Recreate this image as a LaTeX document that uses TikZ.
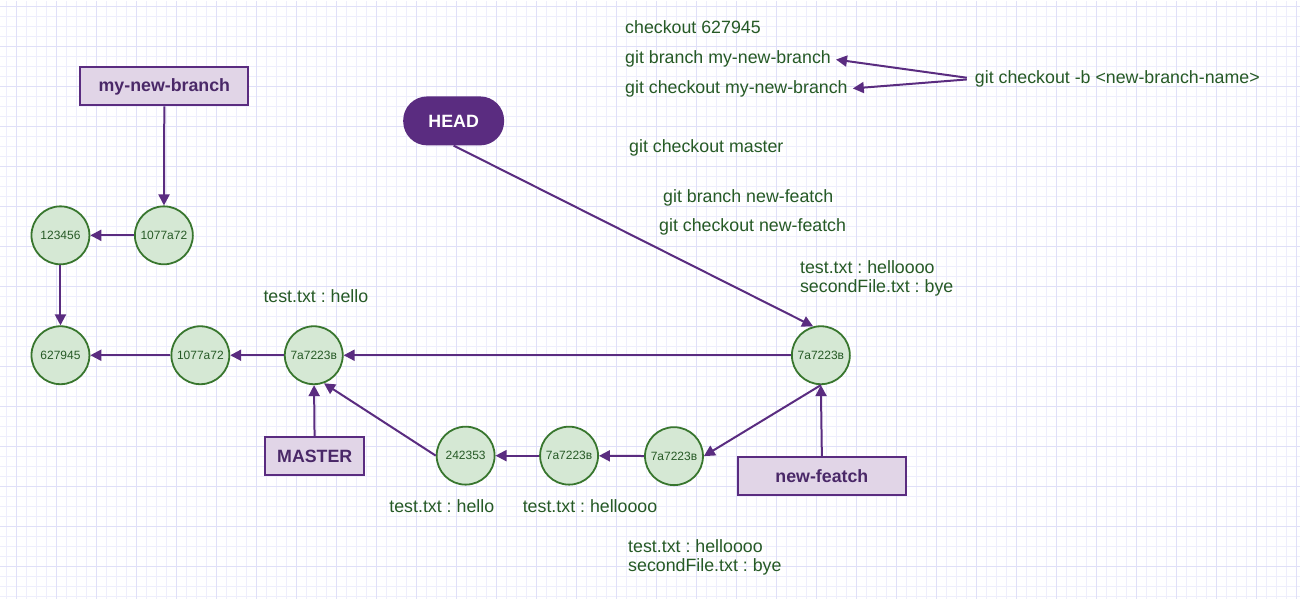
\documentclass[tikz,border=0pt]{standalone}
\usepackage{fontspec}
\setmainfont{Liberation Sans}
\usetikzlibrary{arrows.meta}

\definecolor{gitpurple}{RGB}{90,44,128}
\definecolor{boxfill}{RGB}{225,213,231}
\definecolor{boxtext}{RGB}{74,40,104}
\definecolor{commitfill}{RGB}{213,232,212}
\definecolor{commitline}{RGB}{56,118,46}
\definecolor{msggreen}{RGB}{38,90,38}
\definecolor{gridminor}{RGB}{238,238,252}
\definecolor{gridmajor}{RGB}{224,224,248}

\begin{document}
\frenchspacing
\begin{tikzpicture}[x=1pt, y=-1pt,
	commit/.style={circle, draw=commitline, fill=commitfill, line width=1.8pt, minimum size=58pt, inner sep=0pt, text=msggreen, font=\fontsize{12}{14}\selectfont},
	branchbox/.style={rectangle, draw=gitpurple, fill=boxfill, line width=2pt, minimum height=38pt, text=boxtext, font=\fontsize{17.8}{21}\selectfont\bfseries},
	headbox/.style={rectangle, rounded corners=24pt, fill=gitpurple, minimum width=101pt, minimum height=49pt, text=white, font=\fontsize{17.8}{21}\selectfont\bfseries},
	msg/.style={anchor=base west, inner sep=0pt, align=left, text=msggreen, font=\fontsize{17.8}{19.5}\selectfont\frenchspacing},
	link/.style={draw=gitpurple, line width=2pt, -{Triangle[length=11pt, width=11pt]}}]
			
			% background grid
			\fill [white] (0, 0) rectangle (1300, 599);
			\foreach \x in {6.5, 16.5, ..., 1300} \draw [gridminor, line width=1pt] (\x, 0) -- (\x, 599);
			\foreach \y in {6.5, 16.5, ..., 599} \draw [gridminor, line width=1pt] (0, \y) -- (1300, \y);
			\foreach \x in {16.5, 56.5, ..., 1300} \draw [gridmajor, line width=1pt] (\x, 0) -- (\x, 599);
			\foreach \y in {6.5, 46.5, ..., 599} \draw [gridmajor, line width=1pt] (0, \y) -- (1300, \y);
			\useasboundingbox (0, 0) rectangle (1300, 599);
			
			\node [branchbox, minimum width=168pt] (nbranch) at (164, 86) {my-new-branch};
			\node [headbox] (head) at (453.5, 120.5) {HEAD};
			\node [branchbox, minimum width=99pt] (nmaster) at (314.5, 456) {MASTER};
			\node [branchbox, minimum width=168pt] (nfeat) at (822, 476) {new-featch};
			
			\node [commit] (c123456) at (60, 235) {123456};
			\node [commit] (cside) at (163.5, 235) {1077a72};
			\node [commit] (c627945) at (60, 355) {627945};
			\node [commit] (c1077a72) at (200, 355) {1077a72};
			\node [commit] (cmaster) at (313.5, 355) {7a7223в};
			\node [commit] (cfeat) at (821, 355) {7a7223в};
			\node [commit] (c242353) at (465.5, 455.5) {242353};
			\node [commit] (cmid) at (569, 455.5) {7a7223в};
			\node [commit] (cnext) at (674, 456) {7a7223в};
			
			% multi-line labels sit on the baseline of their last line
			\node [msg] (mcheckout) at (625, 33) {checkout 627945};
			\node [msg] (mbranch) at (625, 63) {git branch my-new-branch};
			\node [msg] (mcheckoutnb) at (625, 93) {git checkout my-new-branch};
			\node [msg] (mshort) at (975, 83) {git checkout -b <new-branch-name>};
			\node [msg] (mmaster) at (629, 152.5) {git checkout master};
			\node [msg] (mbranchnf) at (663, 202) {git branch new-featch};
			\node [msg] (mcheckoutnf) at (659, 231) {git checkout new-featch};
			\node [msg] (mfeat) at (800, 292.5) {test.txt : helloooo\\secondFile.txt : bye};
			\node [msg] (mhello) at (263, 302.5) {test.txt : hello};
			\node [msg] (mhellob) at (389, 512.5) {test.txt : hello};
			\node [msg] (mhelloooo) at (522.5, 512.5) {test.txt : helloooo};
			\node [msg] (mnext) at (628, 571.5) {test.txt : helloooo\\secondFile.txt : bye};
			
			\draw [link] (nbranch) -- (cside);
			\draw [link] (cside) -- (c123456);
			\draw [link] (c123456) -- (c627945);
			\draw [link] (c1077a72) -- (c627945);
			\draw [link] (cmaster) -- (c1077a72);
			\draw [link] (cfeat) -- (cmaster);
			\draw [link] (nmaster) -- (cmaster);
			\draw [link] (c242353.west) -- (cmaster.-70);
			\draw [link] (cmid) -- (c242353);
			\draw [link] (cnext) -- (cmid);
			\draw [link] (cfeat.south) -- (cnext.east);
			\draw [link] (nfeat.north) -- (cfeat.south);
			\draw [link] (head.south) -- (cfeat.105);
			%\draw [link] (mshort) -- (mbranch);
			\draw [link, shorten <=8pt, shorten >=5pt] (mshort.west) -- (mbranch.east);
			\draw [link, shorten <=8pt, shorten >=5pt] (mshort.west) -- (mcheckoutnb.east);
			
\end{tikzpicture}
\end{document}
